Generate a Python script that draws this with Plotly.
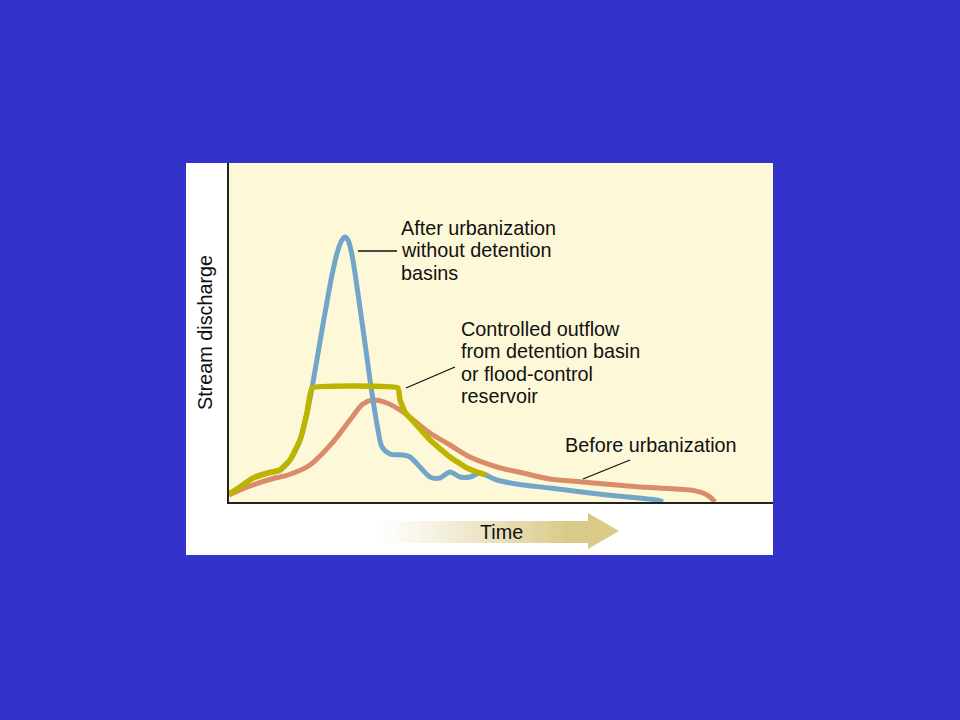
import plotly.graph_objects as go

# ---- data (time units / discharge units) ----
blue_t = [0, 11, 24, 39, 51, 61, 71, 78, 83, 93, 103, 109, 113, 116, 119, 123, 133, 141, 144, 149, 153,
          161, 174, 181, 191, 201, 211, 221, 231, 241, 251, 268, 294, 321, 378, 428, 434]
blue_q = [8, 15, 24, 29, 32, 42, 62, 89, 114, 172, 227, 252, 262, 265, 262, 247, 180, 122, 102, 72, 55,
          48, 47, 45, 35, 25, 24, 30, 25, 25, 29, 22, 17, 14, 7, 2, 0]

yellow_t = [0, 11, 24, 39, 51, 61, 71, 78, 83, 169, 171, 176, 181, 191, 201, 221, 238, 251, 257]
yellow_q = [8, 15, 24, 29, 32, 42, 62, 89, 114, 114, 102, 90, 84, 73, 62, 45, 34, 29, 27]

orange_t = [0, 21, 46, 59, 81, 104, 121, 134, 144, 158, 174, 201, 221, 241, 268, 294, 321, 354, 411,
            461, 474, 481, 486]
orange_q = [7, 16, 24, 27, 37, 60, 82, 98, 102, 99, 90, 69, 57, 45, 35, 29, 23, 20, 15, 12, 9, 5, 0]

label_after = ["After urbanization", "without detention", "basins"]
label_controlled = ["Controlled outflow", "from detention basin", "or flood-control", "reservoir"]
label_before = ["Before urbanization"]
y_title = "Stream discharge"
x_title = "Time"

# ---- styling ----
BG_BLUE = "#3333CC"
CREAM = "#FDF8D8"
C_BLUE = "#72A6C9"
C_YELLOW = "#BDB400"
C_ORANGE = "#D98B6A"
TAN = (218, 202, 136)
FONT = "Liberation Sans, Arial, sans-serif"
FS = 19.8

L, R, T, B = 229, 773, 163, 502  # plot-area pixel box
W, H = R - L, B - T


def px(x):
    return (x - L) / W


def py(y):
    return (B - y) / H


fig = go.Figure()
fig.add_trace(go.Scatter(x=orange_t, y=orange_q, mode="lines",
                         line=dict(color=C_ORANGE, width=5, shape="spline", smoothing=1.0),
                         hoverinfo="skip", showlegend=False))
fig.add_trace(go.Scatter(x=blue_t, y=blue_q, mode="lines",
                         line=dict(color=C_BLUE, width=5, shape="spline", smoothing=0.8),
                         hoverinfo="skip", showlegend=False))
fig.add_trace(go.Scatter(x=yellow_t, y=yellow_q, mode="lines",
                         line=dict(color=C_YELLOW, width=5.5, shape="spline", smoothing=0.3),
                         hoverinfo="skip", showlegend=False))

shapes = []
# white panel
shapes.append(dict(type="rect", xref="paper", yref="paper", layer="below",
                   x0=px(186), x1=px(773), y0=py(555), y1=py(163),
                   fillcolor="white", line=dict(width=0)))
# cream plot area
shapes.append(dict(type="rect", xref="paper", yref="paper", layer="below",
                   x0=0, x1=1, y0=0, y1=1, fillcolor=CREAM, line=dict(width=0)))

# gradient arrow shaft (strips)
x_start, x_end = 372, 592
n = 60
step = (x_end - x_start) / n
for i in range(n):
    f = (i + 0.5) / n
    a = min(1.0, f ** 1.2 * 1.15)
    r = round(255 + (TAN[0] - 255) * a)
    g = round(255 + (TAN[1] - 255) * a)
    b = round(255 + (TAN[2] - 255) * a)
    shapes.append(dict(type="rect", xref="paper", yref="paper", layer="below",
                       x0=px(x_start + i * step), x1=px(x_start + (i + 1) * step + 0.6),
                       y0=py(543), y1=py(521),
                       fillcolor=f"rgb({r},{g},{b})", line=dict(width=0)))
# arrow head
shapes.append(dict(type="path", xref="paper", yref="paper", layer="below",
                   path=f"M {px(588)} {py(513)} L {px(619)} {py(531)} L {px(588)} {py(549)} Z",
                   fillcolor=f"rgb{TAN}", line=dict(width=0)))

# leader lines
for (x0, y0, x1, y1) in [(358, 251, 397, 251), (406, 388, 455, 367), (583, 479, 630, 460)]:
    shapes.append(dict(type="line", xref="paper", yref="paper",
                       x0=px(x0), y0=py(y0), x1=px(x1), y1=py(y1),
                       line=dict(color="#111111", width=1.3)))

annotations = []


def add_block(lines, x_left, y_first, spacing=22.4):
    for k, s in enumerate(lines):
        annotations.append(dict(text=s, xref="paper", yref="paper", showarrow=False,
                                x=px(x_left), y=py(y_first + k * spacing),
                                xanchor="left", yanchor="middle",
                                font=dict(family=FONT, size=FS, color="#111111")))


add_block(label_after, 399, 228)
add_block(label_controlled, 459, 329)
add_block(label_before, 563, 445)

annotations.append(dict(text=y_title, xref="paper", yref="paper", showarrow=False,
                        x=px(205), y=py(333), xanchor="center", yanchor="middle",
                        textangle=-90, font=dict(family=FONT, size=FS, color="#111111")))
annotations.append(dict(text=x_title, xref="paper", yref="paper", showarrow=False,
                        x=px(501), y=py(532), xanchor="center", yanchor="middle",
                        font=dict(family=FONT, size=FS, color="#111111")))

fig.update_layout(
    width=960, height=720,
    margin=dict(l=L, r=960 - R, t=T, b=720 - B, pad=0),
    paper_bgcolor=BG_BLUE,
    plot_bgcolor="rgba(0,0,0,0)",
    shapes=shapes,
    annotations=annotations,
    showlegend=False,
    hovermode=False,
    xaxis=dict(range=[0, W], showgrid=False, zeroline=False, showticklabels=False,
               ticks="", showline=True, linecolor="#222222", linewidth=1.5, fixedrange=True),
    yaxis=dict(range=[0, H], showgrid=False, zeroline=False, showticklabels=False,
               ticks="", showline=True, linecolor="#222222", linewidth=1.5, fixedrange=True),
)

fig.write_html(
    "out.html",
    config={"displayModeBar": False},
    post_script=("document.body.style.margin='0';"
                 "document.body.style.overflow='hidden';"
                 "document.body.style.background='" + BG_BLUE + "';"),
)
